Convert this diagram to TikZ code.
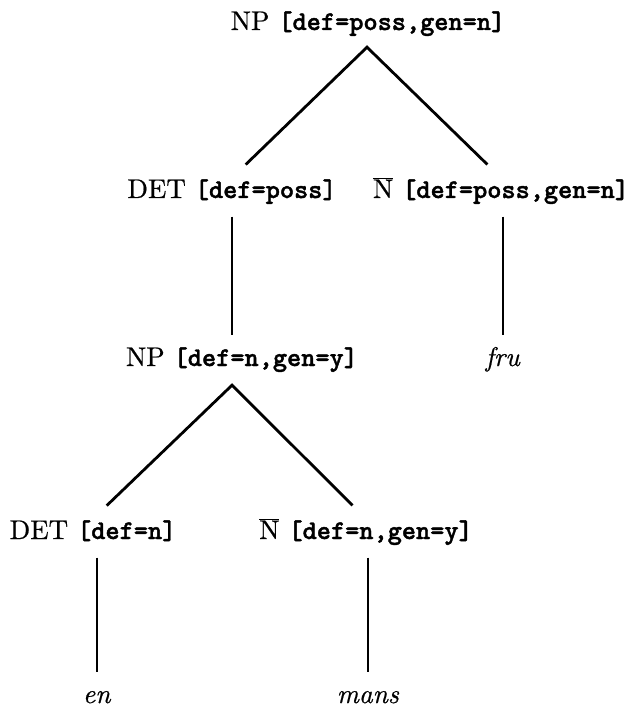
\documentclass[tikz,border=0pt]{standalone}
\usepackage{fontspec}
\setmainfont{lmroman10-regular.otf}[ItalicFont=lmroman10-italic.otf,BoldFont=lmroman10-bold.otf,FakeBold=0.6]
\newfontfamily\featfont{lmmonolt10-bold.otf}[FakeBold=1.5]
\usetikzlibrary{calc}
\newcommand\feat[1]{{\featfont #1}}
\newcommand\nbar{$\overline{\mbox{N}}$}
\begin{document}
\begin{tikzpicture}[x=1pt,y=-1pt,
  lab/.style={anchor=base, inner sep=0pt, text height=20pt, text depth=7pt,
    font=\fontsize{27}{31}\selectfont},
  edge/.style={line width=2.8pt, line join=miter},
  diag/.style={edge, shorten <=19pt, shorten >=19pt},
  vert/.style={edge, shorten <=11.5pt, shorten >=11pt}]
\useasboundingbox (0,0) rectangle (634,711);
\node[lab] (np1) at (368,30) {NP \feat{[def=poss,gen=n]}};
\node[lab] (det1) at (232,198) {DET \feat{[def=poss]}};
\node[lab] (nb1) at (501,198) {\nbar\ \feat{[def=poss,gen=n]}};
\node[lab] (np2) at (242,366) {NP \feat{[def=n,gen=y]}};
\node[lab] (fru) at (503,366) {\textit{fru}};
\node[lab] (det2) at (93,539) {DET \feat{[def=n]}};
\node[lab] (nb2) at (366,539) {\nbar\ \feat{[def=n,gen=y]}};
\node[lab] (en) at (97,703) {\textit{en}};
\node[lab] (mans) at (368,703) {\textit{mans}};
\coordinate (apex1) at ($(np1.south)+(-1,10)$);
\coordinate (apex2) at ($(det1.south |- np2.south)+(0,12)$);
\draw[diag] (det1.north) -- (apex1) -- (nb1.north);
\draw[vert] (det1.south) -- (det1.south |- np2.north);
\draw[vert] (fru.north |- nb1.south) -- (fru.north);
\draw[diag] (det2.north) -- (apex2) -- (nb2.north);
\draw[vert] (en.north |- det2.south) -- (en.north);
\draw[vert] (mans.north |- nb2.south) -- (mans.north);
\end{tikzpicture}
\end{document}
